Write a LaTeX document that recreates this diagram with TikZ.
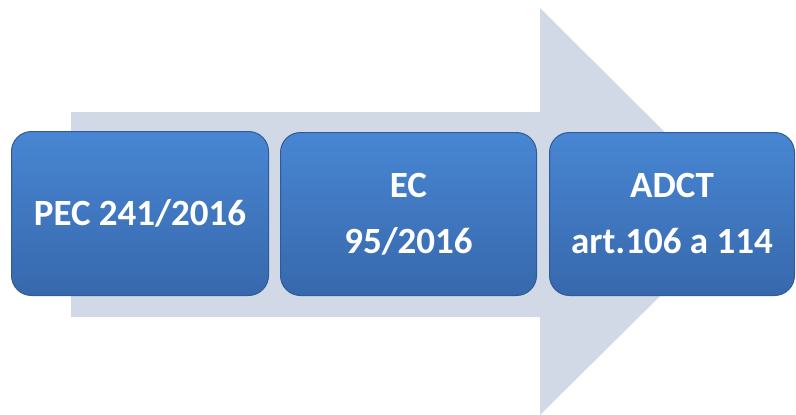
\documentclass[tikz,border=0pt]{standalone}
\usepackage{fontspec}
\setmainfont{Carlito}
\definecolor{arrowfill}{HTML}{D1D8E6}
\definecolor{boxtop}{HTML}{4886D3}
\definecolor{boxbot}{HTML}{3768AC}
\definecolor{boxedge}{HTML}{2F5C98}
\tikzset{
  stagebox/.style={draw=boxedge, line width=1pt, rounded corners=20pt,
    top color=boxtop, bottom color=boxbot, text=white,
    font=\bfseries\fontsize{37}{56}\selectfont, align=center,
    inner sep=0pt, anchor=north west},
}
\begin{document}
\begin{tikzpicture}[x=1pt,y=-1pt]
\useasboundingbox (0,0) rectangle (796,415);
% big background arrow
\fill[arrowfill] (71,112) -- (540,112) -- (540,8) -- (745,212) -- (540,415) -- (540,317) -- (71,317) -- cycle;
% stage boxes
\node[stagebox, minimum width=257pt, minimum height=164pt] (b1) at (11,131) {PEC 241/2016};
\node[stagebox, minimum width=256pt, minimum height=163pt] (b2) at (280,132) {EC\\95/2016};
\node[stagebox, minimum width=245pt, minimum height=163pt] (b3) at (549,132) {ADCT\\art.106 a 114};
\end{tikzpicture}
\end{document}
